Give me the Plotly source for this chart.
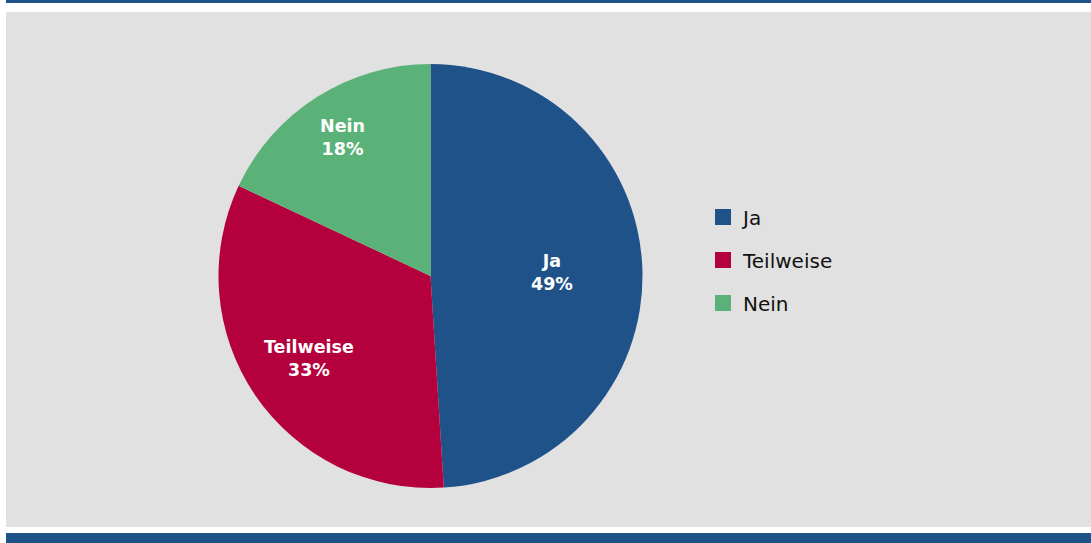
import math
import plotly.graph_objects as go

# Umfrageergebnis
labels = ["Ja", "Teilweise", "Nein"]
values = [49, 33, 18]
colors = ["#1f5289", "#b4003c", "#5bb278"]

W, H = 1091, 543
FONT = "DejaVu Sans"

# pie placement in pixels
PIE_CX, PIE_CY, PIE_R = 430.5, 276, 212

fig = go.Figure()

fig.add_trace(
    go.Pie(
        labels=labels,
        values=values,
        sort=False,
        direction="clockwise",
        rotation=0,
        marker=dict(colors=colors, line=dict(width=0)),
        textinfo="none",
        showlegend=False,
        hoverinfo="label+percent",
        domain=dict(
            x=[(PIE_CX - PIE_R) / W, (PIE_CX + PIE_R) / W],
            y=[1 - (PIE_CY + PIE_R) / H, 1 - (PIE_CY - PIE_R) / H],
        ),
    )
)

# slice labels: sector centroid pushed a bit outwards
total = sum(values)
start = 0.0
for lab, val in zip(labels, values):
    theta = 2 * math.pi * val / total
    mid = start + theta / 2
    start += theta
    rf = 4 * math.sin(theta / 2) / (3 * theta) + 0.14
    px = PIE_CX + rf * PIE_R * math.sin(mid)
    py = PIE_CY - rf * PIE_R * math.cos(mid)
    fig.add_annotation(
        x=px / W, y=1 - py / H, xref="paper", yref="paper",
        text=f"<b>{lab}</b><br><b>{val}%</b>",
        showarrow=False, xanchor="center", yanchor="middle",
        font=dict(family=FONT, size=17.5, color="white"),
    )

# legend entries as separate groups so the spacing can be opened up
for lab, col in zip(labels, colors):
    fig.add_trace(
        go.Scatter(
            x=[None], y=[None],
            mode="markers",
            name=lab,
            legendgroup=lab,
            marker=dict(symbol="square", size=16, color=col),
        )
    )

fig.update_xaxes(visible=False)
fig.update_yaxes(visible=False)

# background panel and blue rules
fig.add_shape(type="rect", xref="paper", yref="paper", layer="below",
              x0=6 / W, x1=1, y0=1 - 527 / H, y1=1 - 12 / H,
              fillcolor="#e1e1e1", line=dict(width=0))
fig.add_shape(type="rect", xref="paper", yref="paper", layer="below",
              x0=6 / W, x1=1, y0=1 - 3 / H, y1=1,
              fillcolor="#1f5289", line=dict(width=0))
fig.add_shape(type="rect", xref="paper", yref="paper", layer="below",
              x0=6 / W, x1=1, y0=0, y1=10 / H,
              fillcolor="#1f5289", line=dict(width=0))

fig.update_layout(
    width=W,
    height=H,
    margin=dict(l=0, r=0, t=0, b=0),
    paper_bgcolor="white",
    plot_bgcolor="rgba(0,0,0,0)",
    font=dict(family=FONT, size=20, color="#111111"),
    legend=dict(
        x=703 / W, y=1 - 260 / H,
        xanchor="left", yanchor="middle",
        bgcolor="rgba(0,0,0,0)",
        tracegroupgap=14,
        font=dict(family=FONT, size=20, color="#111111"),
    ),
)

fig.write_html(
    "out.html",
    config={"displayModeBar": False},
    post_script="document.body.style.margin='0';",
)
